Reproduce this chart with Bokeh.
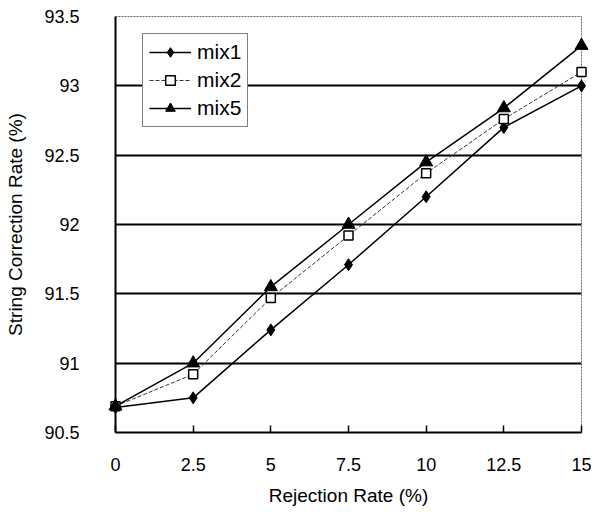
from bokeh.plotting import figure
from bokeh.models import FixedTicker, Legend, LegendItem, Range1d
from bokeh.embed import file_html
from bokeh.resources import INLINE

# Data
rejection_rate = [0, 2.5, 5, 7.5, 10, 12.5, 15]
mix1 = [90.68, 90.75, 91.24, 91.71, 92.20, 92.70, 93.00]
mix2 = [90.69, 90.92, 91.47, 91.92, 92.37, 92.76, 93.10]
mix5 = [90.69, 91.00, 91.55, 92.00, 92.45, 92.84, 93.29]
x_tick_labels = ["0", "2.5", "5", "7.5", "10", "12.5", "15"]
y_ticks = [90.5, 91, 91.5, 92, 92.5, 93, 93.5]
y_tick_labels = ["90.5", "91", "91.5", "92", "92.5", "93", "93.5"]

FONT = "Liberation Sans"

p = figure(width=595, height=512, output_backend="svg", toolbar_location=None,
           x_range=Range1d(0, 15), y_range=Range1d(90.5, 93.5),
           min_border_left=115, min_border_right=14, min_border_top=16, min_border_bottom=80)
p.background_fill_color = "white"
p.border_fill_color = "white"
p.outline_line_color = "#666666"
p.outline_line_dash = "2 1"
p.outline_line_width = 1

# Axes
p.xaxis.ticker = FixedTicker(ticks=rejection_rate)
p.xaxis.major_label_overrides = {t: l for t, l in zip(rejection_rate, x_tick_labels)}
p.yaxis.ticker = FixedTicker(ticks=y_ticks)
p.yaxis.major_label_overrides = {t: l for t, l in zip(y_ticks, y_tick_labels)}

for ax in (p.xaxis[0], p.yaxis[0]):
    ax.axis_line_color = "black"
    ax.axis_line_width = 2
    ax.minor_tick_line_color = None
    ax.major_label_text_font = FONT
    ax.major_label_text_font_size = "18px"
    ax.major_label_text_color = "black"
    ax.axis_label_text_font = FONT
    ax.axis_label_text_font_size = "19px"
    ax.axis_label_text_font_style = "normal"
    ax.axis_label_text_color = "black"

p.xaxis.major_tick_in = 7
p.xaxis.major_tick_out = 0
p.xaxis.major_tick_line_color = "black"
p.xaxis.major_tick_line_width = 1.5
p.xaxis.major_label_standoff = 25
p.xaxis.axis_label = "Rejection Rate (%)"
p.xaxis.axis_label_standoff = 11

p.yaxis.major_tick_line_color = None
p.yaxis.major_tick_in = 0
p.yaxis.major_tick_out = 0
p.yaxis.major_label_standoff = 36
p.yaxis.axis_label = "String Correction Rate (%)"
p.yaxis.axis_label_standoff = 15

p.xgrid.grid_line_color = None
p.ygrid.ticker = FixedTicker(ticks=y_ticks[1:-1])
p.ygrid.grid_line_color = "black"
p.ygrid.grid_line_width = 2

# Series
l1 = p.line(rejection_rate, mix1, line_color="black", line_width=1.5)
s1 = p.scatter(rejection_rate, mix1, marker="diamond", size=12, fill_color="black", line_color="black")
l2 = p.line(rejection_rate, mix2, line_color="#333333", line_width=1, line_dash="4 2")
s2 = p.scatter(rejection_rate, mix2, marker="square", size=9, fill_color="white", line_color="black", line_width=1.5)
l3 = p.line(rejection_rate, mix5, line_color="black", line_width=1.5)
s3 = p.scatter(rejection_rate, mix5, marker="triangle", size=13, fill_color="black", line_color="black")

for r in (s1, s2, s3):
    r.level = "overlay"

legend = Legend(items=[
    LegendItem(label="mix1", renderers=[l1, s1]),
    LegendItem(label="mix2", renderers=[l2, s2]),
    LegendItem(label="mix5", renderers=[l3, s3]),
], location=(27, 305))
legend.label_text_font = FONT
legend.label_text_font_size = "21px"
legend.label_text_color = "black"
legend.glyph_width = 42
legend.glyph_height = 24
legend.label_height = 24
legend.label_standoff = 6
legend.spacing = 4
legend.padding = 6
legend.margin = 0
legend.border_line_color = "black"
legend.border_line_width = 1.5
legend.background_fill_alpha = 1
p.add_layout(legend, "center")

open("out.html", "w").write(file_html(p, INLINE))
